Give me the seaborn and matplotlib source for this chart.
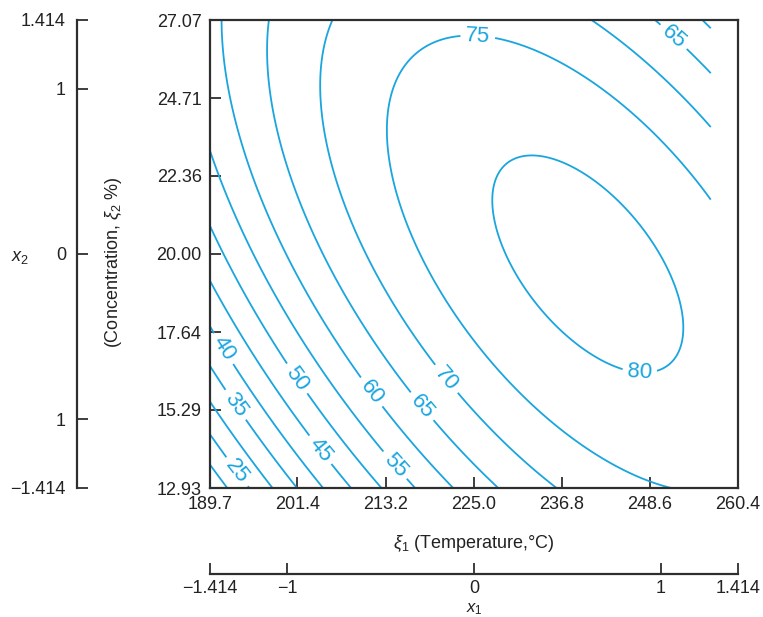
import numpy as np
import matplotlib
matplotlib.use("Agg")
import matplotlib.pyplot as plt
import seaborn as sns

# ---- data: fitted second-order response surface (coded units) ----
coef_values = [78.55, 9.925, 4.126, -8.5, -5.165, -7.77]   # b0, b1, b2, b11, b22, b12
contour_levels = [20, 25, 30, 35, 40, 45, 50, 55, 60, 65, 70, 75, 80]
temp_ticks = [189.7, 201.4, 213.2, 225.0, 236.8, 248.6, 260.4]
conc_ticks = [12.93, 15.29, 17.64, 20.00, 22.36, 24.71, 27.07]
x1_ticks = [-1.414, -1, 0, 1, 1.414]
x1_labels = ["\u22121.414", "\u22121", "0", "1", "1.414"]
x2_ticks = [-1.414, -1, 0, 1, 1.414]
x2_labels = ["\u22121.414", "1", "0", "1", "1.414"]
temp_center, temp_step = 225.0, 25.0
conc_center, conc_step = 20.0, 5.0
coded_x1_max = 1.27

# label anchor positions (temperature, concentration)
label_pos = [(225.52, 26.43), (251.52, 26.49), (247.28, 16.56), (221.17, 16.19),
             (217.82, 15.34), (211.12, 15.79), (214.25, 13.57), (201.08, 16.19),
             (204.20, 14.03), (191.27, 17.10), (192.82, 15.39), (193.05, 13.37)]

sns.set_theme(style="white")
plt.rcParams["font.family"] = ["Liberation Sans", "DejaVu Sans"]
plt.rcParams["mathtext.fontset"] = "custom"
plt.rcParams["mathtext.rm"] = "Liberation Sans"
plt.rcParams["mathtext.it"] = "Liberation Sans:italic"

line_color = "#1aa5df"
dark = "#2e2e2e"
txt = "#222222"
W, H = 763, 617
fig = plt.figure(figsize=(W / 100, H / 100), dpi=100)

L, R, T_, B = 210, 738, 20, 488
ax = fig.add_axes([L / W, 1 - B / H, (R - L) / W, (B - T_) / H])

b0, b1, b2, b11, b22, b12 = coef_values
g1 = np.linspace(-1.414, coded_x1_max, 400)
g2 = np.linspace(-1.414, 1.414, 400)
X1, X2 = np.meshgrid(g1, g2)
Z = b0 + b1 * X1 + b2 * X2 + b11 * X1 ** 2 + b22 * X2 ** 2 + b12 * X1 * X2
TT = temp_center + temp_step * X1
CC = conc_center + conc_step * X2

cs = ax.contour(TT, CC, Z, levels=contour_levels, colors=line_color, linewidths=1.3)
ax.clabel(cs, manual=label_pos, inline=True, inline_spacing=6,
          fmt="%d", fontsize=16, colors=line_color)

ax.set_xlim(temp_ticks[0], temp_ticks[-1])
ax.set_ylim(conc_ticks[0], conc_ticks[-1])
ax.set_xticks(temp_ticks)
ax.set_xticklabels([f"{v:.1f}" for v in temp_ticks])
ax.set_yticks(conc_ticks)
ax.set_yticklabels([f"{v:.2f}" for v in conc_ticks])
ax.tick_params(axis="both", direction="in", length=8, width=1.3, color=dark,
               labelsize=13, labelcolor=txt, pad=6)
ax.tick_params(axis="x", bottom=True, top=False)
ax.tick_params(axis="y", left=True, right=False)
for s in ax.spines.values():
    s.set_color(dark)
    s.set_linewidth(1.6)
ax.grid(False)

fig.text(474 / W, 1 - 543 / H, r"$\xi_1$ (Temperature,°C)", ha="center", va="center",
         fontsize=13, color=txt)
fig.text(113 / W, 1 - 262 / H, r"(Concentration, $\xi_2$ %)", ha="center", va="center",
         rotation=90, fontsize=13, color=txt)

# coded x2 axis on the left
axL = fig.add_axes([77 / W, 1 - B / H, 0.0005, (B - T_) / H])
axL.set_facecolor("none")
axL.set_ylim(-1.414, 1.414)
axL.set_xticks([])
axL.set_yticks(x2_ticks)
axL.set_yticklabels(x2_labels)
for k in ["top", "right", "bottom"]:
    axL.spines[k].set_visible(False)
axL.spines["left"].set_color(dark)
axL.spines["left"].set_linewidth(1.6)
axL.tick_params(axis="y", left=True, right=False, direction="in", length=8, width=1.3,
                color=dark, labelsize=13, labelcolor=txt, pad=8)
fig.text(20 / W, 1 - 257 / H, r"$x_2$", ha="center", va="center", fontsize=13, color=txt)

# coded x1 axis at the bottom
axB = fig.add_axes([L / W, 1 - 574 / H, (R - L) / W, 0.0005])
axB.set_facecolor("none")
axB.set_xlim(-1.414, 1.414)
axB.set_yticks([])
axB.set_xticks(x1_ticks)
axB.set_xticklabels(x1_labels)
for k in ["top", "right", "left"]:
    axB.spines[k].set_visible(False)
axB.spines["bottom"].set_color(dark)
axB.spines["bottom"].set_linewidth(1.6)
axB.tick_params(axis="x", bottom=True, top=False, direction="in", length=8, width=1.3,
                color=dark, labelsize=13, labelcolor=txt, pad=4)
fig.text(474 / W, 1 - 609 / H, r"$x_1$", ha="center", va="center", fontsize=12, color=txt)

fig.savefig("out.png", dpi=100)
